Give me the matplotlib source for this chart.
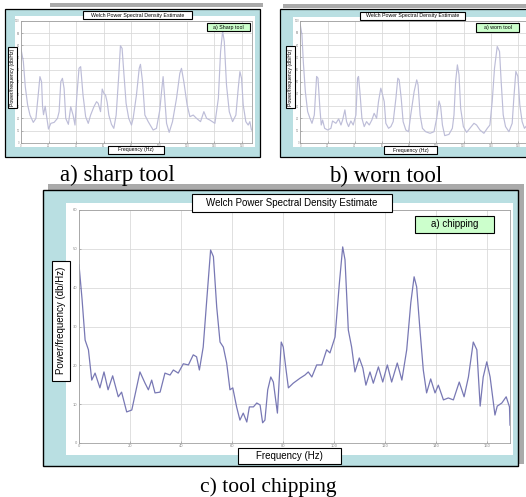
import matplotlib
matplotlib.use("Agg")
import matplotlib.pyplot as plt
from matplotlib.patches import Rectangle

# ---------------- data ----------------
a_freq = [0, 1.7, 3.1, 4.8, 6.5, 8.9, 10.8, 12.7, 13.7, 14.9, 15.6, 16.3, 17.5, 18.5, 19.9,
          21.6, 24.0, 26.4, 27.6, 28.8, 30.0, 31.2, 32.4, 34.3, 36.0, 37.7, 39.1, 40.3, 42.0,
          43.2, 44.9, 46.8, 48.7, 50.4, 52.8, 54.7, 55.9, 57.6, 58.8, 60.0, 61.2, 62.4, 63.6,
          65.5, 67.2, 68.9, 70.8, 72.0, 73.2, 74.4, 76.1, 78.0, 80.0, 81.2, 83.6, 85.6, 86.5,
          88.0, 89.7, 92.1, 95.7, 98.1, 100.5, 102.0, 102.9, 103.9, 105.4, 107.3, 109.7, 112.6,
          115.0, 116.2, 117.9, 120.3, 122.3, 124.7, 127.1, 130.0, 132.4, 134.4, 136.8, 140.4,
          142.9, 144.5, 146.0, 147.2, 148.8, 150.8, 153.2, 155.6, 157.3, 158.5, 159.7, 160.9,
          162.8, 164.5, 165.7, 166.9]
a_psd = [77, 66.6, 46, 31, 22.7, 16.7, 20, 42, 54.3, 50, 30, 23, 30, 22, 11.2,
         15.9, 16.7, 20, 25.5, 50.1, 52.9, 44.7, 20, 15.1, 29.6, 22.7, 14.5, 36.4, 61.1,
         62.5, 39.2, 21.4, 15.9, 22.7, 29.6, 33.7, 32.3, 25.5, 44.1, 40.6, 39.2, 33.2, 22.7,
         15.1, 11.8, 22.7, 55.6, 79.7, 77.5, 58.4, 32.3, 20, 14.5, 20, 39.2, 61.1, 64.4,
         50.1, 22.7, 17.3, 10.4, 11.8, 26.9, 44.7, 54.3, 39.2, 15.9, 8.5, 17.3, 36.4,
         57, 61.1, 50.1, 31, 21.4, 22.7, 20, 17.3, 25.5, 20, 18.6, 15.9,
         36.4, 74.8, 91.8, 83, 47.4, 25.5, 17.3, 22.7, 44.7, 58.4, 52.9, 31,
         17.3, 14.5, 17.3, 10.4]

b_freq = [0, 1.2, 2.2, 3.7, 5.4, 7.1, 8.6, 10.3, 12.0, 13.0, 14.4, 15.4, 16.4, 17.9, 20.1,
          22.5, 23.7, 26.2, 28.2, 29.9, 31.1, 32.8, 34.0, 35.5, 37.2, 38.9, 40.9, 42.1, 42.8,
          43.8, 45.3, 47.0, 48.7, 50.7, 52.6, 54.3, 56.1, 57.5, 59.2, 60.5, 61.7, 62.9, 64.9,
          66.6, 68.3, 70.3, 71.7, 72.7, 74.2, 75.6, 77.6, 79.6, 81.2, 83.7, 85.6, 86.6, 88.1,
          89.8, 92.2, 95.4, 98.3, 100.3, 102.0, 103.2, 104.5, 106.2, 109.3, 111.8, 113.0, 114.2,
          115.5, 116.7, 117.9, 119.9, 122.3, 124.7, 127.7, 129.6, 132.1, 135.0, 137.5, 139.4,
          141.1, 142.8, 144.8, 146.5, 147.7, 149.2, 150.9, 153.4, 155.8, 157.0, 158.5, 160.0,
          161.4, 163.1, 164.8, 166.5, 168.0]
b_psd = [96.5, 88.5, 66.6, 41.9, 25.5, 20, 15.9, 22.7, 54.3, 52.9, 28.2, 14.5, 18.6, 11.8, 10.4,
         11.8, 17.8, 15.9, 19.5, 14.5, 18.6, 26.9, 17.3, 13.2, 17.8, 14.5, 22.7, 52.9, 54.3,
         41.9, 20, 13.2, 17.3, 14.5, 18.6, 24.1, 20, 33.7, 44.7, 39.2, 33.7, 15.9, 11.8,
         13.2, 17.3, 36.4, 52.9, 51.5, 36.4, 17.3, 10.4, 9, 22.7, 41.9, 51.5, 47.4, 22.7,
         11.8, 9, 7.7, 9, 20, 34.2, 29.6, 14.5, 5.8, 6.8, 11.8, 22.7, 50.1,
         63.8, 55.6, 28.2, 13.2, 8.5, 11.8, 15.9, 14.5, 10.4, 7.7, 11.8, 14.5,
         33.7, 61.1, 78.9, 74.8, 50.1, 22.7, 13.2, 9, 15.9, 36.4, 58.4, 54.3,
         31, 17.3, 11.8, 14, 10]

c_freq = [0, 1.2, 2.4, 3.7, 5.0, 6.3, 8.2, 9.8, 11.4, 13.2, 15.4, 16.7, 18.7, 20.7, 23.9,
          25.9, 27.2, 28.5, 29.8, 31.8, 33.7, 35.7, 37.0, 38.9, 40.9, 42.9, 44.8, 46.1, 47.2,
          48.7, 50.1, 51.6, 52.7, 54.0, 55.3, 56.6, 57.9, 59.2, 60.3, 61.8, 63.1, 64.4, 65.8,
          66.8, 68.4, 69.7, 71.0, 72.0, 72.9, 74.0, 75.2, 76.2, 77.8, 79.3, 80.1, 81.2, 82.1,
          84.0, 86.7, 88.6, 89.9, 91.3, 93.2, 95.2, 97.1, 98.4, 100.4, 102.1, 103.4, 104.3,
          105.6, 106.9, 108.2, 109.9, 111.3, 112.5, 114.1, 115.4, 117.4, 119.1, 120.9, 122.6,
          124.8, 126.6, 128.5, 130.1, 131.4, 132.4, 133.7, 135.0, 136.3, 137.9, 139.6, 140.9,
          142.9, 144.8, 146.8, 149.1, 151.0, 152.7, 154.6, 156.0, 157.3, 158.5, 159.9, 161.2,
          163.1, 164.0, 165.8, 167.5, 168.8, 169.0]
c_psd = [45.9, 37, 26.5, 24, 16.2, 18, 14.2, 18.3, 13.7, 17.3, 11.9, 13.1, 8, 8.5, 18.3,
         15.4, 13.7, 16.2, 12.9, 13.1, 18, 17.5, 18.8, 18, 20.4, 20.1, 22.7, 22.2, 18.8,
         24.7, 36.9, 49.7, 48, 35, 26, 24.7, 20.6, 13.7, 14.2, 9.3, 5.9, 7.7, 5.4,
         9.3, 9.3, 10.3, 9.8, 5.2, 5.9, 13.7, 17, 15.7, 7.7, 26, 24.7, 18.8, 14.2,
         15.4, 16.7, 17.5, 18.3, 17, 20.1, 20.1, 24, 23.2, 27.3, 41.2, 50.5, 47.2,
         29.1, 24.7, 18.3, 21.9, 19.3, 14.9, 18.3, 15.4, 19.6, 15.7, 20.1, 15.7,
         20.6, 16.2, 24, 36.1, 42.8, 40.2, 29.1, 18.8, 12.9, 16.5, 12.9, 14.9,
         11.1, 11.6, 11.1, 15.7, 11.9, 17, 26, 24, 9.5, 17, 20.9, 17,
         7.2, 9.5, 10.3, 11.9, 9.3, 4.6]

small_yticks = [0, 10, 20, 30, 40, 50, 60, 70, 80, 90, 100]
freq_ticks = [0, 20, 40, 60, 80, 100, 120, 140, 160]
c_yticks = [0, 10, 20, 30, 40, 50, 60]

title_text = "Welch Power Spectral Density Estimate"
ylabel_text = "Power/frequency (db/Hz)"
xlabel_text = "Frequency (Hz)"
captions = ["a) sharp tool", "b) worn tool", "c) tool chipping"]
legends = ["a) Sharp tool", "a) worn tool", "a) chipping"]

# ---------------- layout helpers ----------------
W, H = 526, 497
fig = plt.figure(figsize=(W / 100, H / 100), dpi=100)
fig.patch.set_facecolor("white")

SANS = "Liberation Sans"
SERIF = "Liberation Serif"
BLUE = "#b9dfe2"
SHADOW = "#aaaaaa"


def frac(x0, y0, x1, y1):
    return [x0 / W, 1 - y1 / H, (x1 - x0) / W, (y1 - y0) / H]


def rect(x0, y0, x1, y1, fc, ec="none", lw=0.0, z=-5):
    fig.add_artist(Rectangle((x0 / W, 1 - y1 / H), (x1 - x0) / W, (y1 - y0) / H,
                             transform=fig.transFigure, facecolor=fc, edgecolor=ec,
                             linewidth=lw, zorder=z))


def boxtext(x0, y0, x1, y1, text, size, fc="white", rot=0):
    rect(x0, y0, x1, y1, fc, ec="black", lw=0.8, z=5)
    fig.text((x0 + x1) / 2 / W, 1 - (y0 + y1) / 2 / H, text, ha="center", va="center",
             fontsize=size, family=SANS, rotation=rot, zorder=6)


def make_axes(box, freq, psd, ylim, yticks, color, lw, lsize):
    ax = fig.add_axes(frac(*box))
    ax.plot(freq, psd, color=color, lw=lw)
    ax.set_xlim(0, freq[-1])
    ax.set_ylim(*ylim)
    ax.set_xticks(freq_ticks)
    ax.set_yticks(yticks)
    ax.grid(True, color="#dadada", lw=0.6)
    ax.set_axisbelow(True)
    ax.tick_params(direction="in", length=1.5, width=0.4, colors="#888888",
                   labelsize=lsize, pad=1)
    for s in ax.spines.values():
        s.set_color("#a0a0a0")
        s.set_linewidth(0.6)
    return ax


# ---------------- shadows ----------------
rect(50, 3, 263, 7, SHADOW, z=-8)
rect(283, 4, 526, 8, SHADOW, z=-8)
rect(48, 184, 524, 190, SHADOW, z=-8)
rect(518, 184, 524, 464, SHADOW, z=-8)

# ---------------- panel a ----------------
rect(5, 9, 260, 157, BLUE, ec="black", lw=0.9, z=-6)
rect(15, 16, 255, 147, "white", z=-4)
make_axes((21, 21, 251.5, 142.7), a_freq, a_psd, (0, 100), small_yticks,
          "#bdbdd8", 0.85, 1.8)
boxtext(83, 11, 192, 19, title_text, 3.8)
boxtext(207, 23, 250, 31, legends[0], 3.8, fc="#ccffcc")
boxtext(8, 47, 17, 108, ylabel_text, 3.7, rot=90)
boxtext(108, 146, 164, 154, xlabel_text, 3.7)
fig.text(117 / W, 1 - 175 / H, captions[0], ha="center", va="center",
         fontsize=16.5, family=SERIF)

# ---------------- panel b ----------------
rect(280, 9, 540, 157, BLUE, ec="black", lw=0.9, z=-6)
rect(293, 17, 535, 147, "white", z=-4)
make_axes((300.3, 20.7, 300.3 + 168 * 1.36, 142.7), b_freq, b_psd, (0, 100), small_yticks,
          "#bdbdd8", 0.85, 1.8)
boxtext(360, 11.5, 465, 20, title_text, 3.8)
boxtext(476, 23, 519, 32, legends[1], 3.8, fc="#ccffcc")
boxtext(285.7, 46, 294.7, 108, ylabel_text, 3.7, rot=90)
boxtext(384, 146.5, 437, 154, xlabel_text, 3.7)
fig.text(386 / W, 1 - 176 / H, captions[1], ha="center", va="center",
         fontsize=16.5, family=SERIF)

# ---------------- panel c ----------------
rect(42.7, 190, 518, 466, BLUE, ec="black", lw=1.0, z=-6)
rect(66, 203, 513, 455, "white", z=-4)
make_axes((79, 210, 510, 443), c_freq, c_psd, (0, 60), c_yticks,
          "#7878b4", 0.9, 2.6)
boxtext(191.7, 194, 391.7, 211.5, title_text, 7)
boxtext(415, 216, 494, 232.5, legends[2], 7, fc="#ccffcc")
boxtext(51.7, 260.7, 70, 380.7, ylabel_text, 7, rot=90)
boxtext(238.3, 448, 340.7, 464, xlabel_text, 7)
fig.text(268 / W, 1 - 487 / H, captions[2], ha="center", va="center",
         fontsize=15.5, family=SERIF)

fig.savefig("out.png", dpi=100)
